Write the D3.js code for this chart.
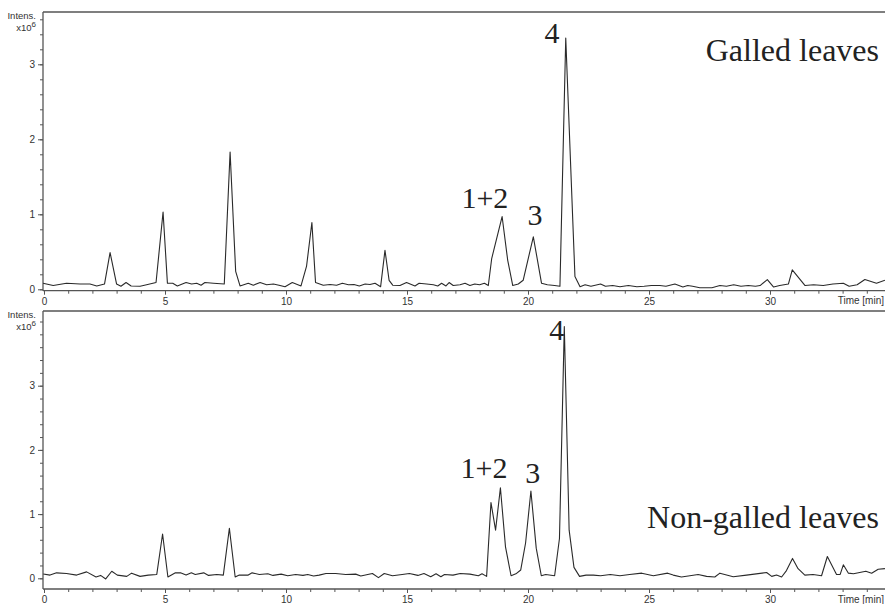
<!DOCTYPE html>
<html>
<head>
<meta charset="utf-8">
<script src="https://cdn.jsdelivr.net/npm/d3@7"></script>
<style>
  body { margin: 0; background: #fff; }
  svg { display: block; }
</style>
</head>
<body>
<script>
// chromatogram values (time in min, intensity x10^6)
var galledTime = [-0.04, 0.38, 0.93, 1.49, 1.9, 2.18, 2.5, 2.73, 3.0, 3.18, 3.39, 3.6, 3.97, 4.24, 4.63, 4.92,
  5.1, 5.32, 5.51, 5.87, 6.1, 6.31, 6.49, 6.65, 7.0, 7.45, 7.69, 7.92, 8.1, 8.44, 8.65, 8.93, 9.2, 9.48, 9.71,
  9.96, 10.26, 10.62, 10.85, 11.07, 11.22, 11.54, 11.82, 12.09, 12.33, 12.58, 12.81, 13.03, 13.27, 13.47, 13.68,
  13.91, 14.09, 14.26, 14.41, 14.71, 14.98, 15.33, 15.5, 15.81, 16.09, 16.27, 16.43, 16.61, 16.74, 16.91, 17.19,
  17.4, 17.6, 17.8, 18.0, 18.2, 18.36, 18.5, 18.93, 19.16, 19.37, 19.6, 19.8, 20.22, 20.56, 20.8, 21.1, 21.32,
  21.56, 21.94, 22.15, 22.36, 22.6, 23.0, 23.2, 23.5, 23.8, 24.15, 24.5, 24.8, 25.1, 25.45, 25.7, 26.07, 26.4,
  26.6, 26.8, 27.1, 27.6, 27.93, 28.2, 28.5, 28.8, 29.1, 29.4, 29.59, 29.89, 30.15, 30.4, 30.76, 30.92, 31.45,
  31.8, 32.2, 32.6, 33.03, 33.27, 33.6, 33.92, 34.4, 34.75];
var galledIntens = [0.08, 0.05, 0.08, 0.07, 0.07, 0.045, 0.07, 0.49, 0.07, 0.04, 0.09, 0.045, 0.04, 0.06, 0.09, 1.03,
  0.08, 0.08, 0.045, 0.09, 0.07, 0.08, 0.055, 0.09, 0.08, 0.07, 1.83, 0.24, 0.045, 0.08, 0.055, 0.09, 0.06, 0.07, 0.055,
  0.035, 0.09, 0.045, 0.31, 0.89, 0.09, 0.055, 0.065, 0.055, 0.08, 0.06, 0.065, 0.045, 0.07, 0.065, 0.08,
  0.035, 0.52, 0.12, 0.055, 0.05, 0.09, 0.045, 0.08, 0.07, 0.06, 0.045, 0.08, 0.045, 0.09, 0.05, 0.06,
  0.08, 0.05, 0.07, 0.06, 0.08, 0.05, 0.41, 0.97, 0.39, 0.05, 0.07, 0.12, 0.70, 0.08, 0.06, 0.05, 0.04,
  3.35, 0.17, 0.035, 0.06, 0.04, 0.07, 0.04, 0.05, 0.035, 0.05, 0.035, 0.04, 0.05, 0.05, 0.04, 0.07, 0.03,
  0.05, 0.04, 0.02, 0.02, 0.05, 0.04, 0.06, 0.04, 0.05, 0.04, 0.05, 0.13, 0.03, 0.05, 0.07, 0.26, 0.05,
  0.06, 0.05, 0.07, 0.08, 0.04, 0.06, 0.13, 0.08, 0.12];

var nonGalledTime = [-0.03, 0.25, 0.52, 0.93, 1.35, 1.76, 2.15, 2.34, 2.55, 2.8, 3.03, 3.42, 3.62, 3.97, 4.31, 4.66,
  4.9, 5.12, 5.43, 5.64, 5.87, 6.09, 6.25, 6.6, 6.8, 7.14, 7.41, 7.66, 7.9, 8.07, 8.44, 8.6, 8.9, 9.25, 9.46,
  9.8, 10.07, 10.4, 10.7, 10.9, 11.14, 11.37, 11.65, 12.05, 12.47, 12.88, 13.09, 13.57, 13.82, 14.06, 14.4,
  14.8, 15.1, 15.45, 15.7, 15.98, 16.2, 16.4, 16.55, 16.9, 17.2, 17.6, 17.95, 18.1, 18.29, 18.47, 18.66, 18.86,
  19.07, 19.3, 19.5, 19.7, 19.9, 20.12, 20.34, 20.55, 20.73, 21.1, 21.3, 21.5, 21.7, 21.9, 22.13, 22.4, 22.7,
  23.0, 23.4, 23.8, 24.2, 24.7, 25.18, 25.77, 26.0, 26.34, 26.69, 27.03, 27.38, 27.72, 27.93, 28.48, 29.03,
  29.86, 30.07, 30.27, 30.48, 30.68, 30.93, 31.16, 31.44, 31.78, 32.13, 32.37, 32.75, 32.9, 33.03, 33.24,
  33.45, 33.96, 34.2, 34.47, 34.75];
var nonGalledIntens = [0.067, 0.05, 0.085, 0.075, 0.05, 0.1, 0.02, 0.045, -0.01, 0.11, 0.05, 0.03, 0.08, 0.03, 0.05, 0.06,
  0.69, 0.02, 0.085, 0.085, 0.05, 0.085, 0.06, 0.085, 0.045, 0.06, 0.05, 0.78, 0.02, 0.05, 0.05, 0.085, 0.06, 0.07, 0.045,
  0.065, 0.04, 0.06, 0.045, 0.06, 0.035, 0.05, 0.075, 0.075, 0.06, 0.065, 0.035, 0.075, 0.01, 0.075, 0.04,
  0.06, 0.075, 0.045, 0.075, 0.025, 0.07, 0.025, 0.06, 0.05, 0.075, 0.065, 0.04, 0.07, 0.03, 1.18, 0.75, 1.41,
  0.49, 0.04, 0.07, 0.13, 0.55, 1.36, 0.47, 0.04, 0.06, 0.04, 0.62, 3.92, 0.75, 0.17, 0.03, 0.05, 0.05,
  0.04, 0.06, 0.04, 0.06, 0.08, 0.04, 0.08, 0.05, 0.02, 0.04, 0.06, 0.03, 0.02, 0.08, 0.025, 0.05,
  0.09, 0.03, 0.05, 0.02, 0.12, 0.31, 0.15, 0.05, 0.06, 0.04, 0.34, 0.06, 0.06, 0.21, 0.08,
  0.07, 0.11, 0.08, 0.14, 0.15];

var xMajorTicks = [0, 5, 10, 15, 20, 25, 30];
var yMajorTicks = [0, 1, 2, 3];
var panelTitles = ["Galled leaves", "Non-galled leaves"];
var peakNames = ["1+2", "3", "4"];
// label anchor (time, intensity of the text baseline)
var peakTimesGalled = [18.22, 20.29, 20.99];
var peakHeightsGalled = [1.08, 0.86, 3.28];
var peakTimesNonGalled = [18.18, 20.2, 21.19];
var peakHeightsNonGalled = [1.56, 1.48, 3.71];

var W = 885, H = 604;
var svg = d3.select("body").append("svg")
    .attr("width", W)
    .attr("height", H);

var x = d3.scaleLinear().domain([0, 35]).range([44, 44 + 24.2 * 35]);

var panels = [
  {time: galledTime, intens: galledIntens, top: 12, axisY: 290.7, y0: 289.3, unit: 75, yMax: 3.6,
   title: panelTitles[0], titleY: 61, peakT: peakTimesGalled, peakV: peakHeightsGalled},
  {time: nonGalledTime, intens: nonGalledIntens, top: 311, axisY: 589, y0: 578.3, unit: 64.2, yMax: 4.0,
   title: panelTitles[1], titleY: 528, peakT: peakTimesNonGalled, peakV: peakHeightsNonGalled}
];

var axisColor = "#555", textColor = "#333";

panels.forEach(function(p) {
  var y = d3.scaleLinear().domain([0, 3]).range([p.y0, p.y0 - 3 * p.unit]);
  var g = svg.append("g");

  // frame: top border, left axis, bottom axis
  g.append("line").attr("x1", 43).attr("x2", W).attr("y1", p.top).attr("y2", p.top)
    .attr("stroke", axisColor).attr("stroke-width", 1.3);
  g.append("line").attr("x1", 43).attr("x2", 43).attr("y1", p.top).attr("y2", p.axisY)
    .attr("stroke", axisColor).attr("stroke-width", 1.3);
  g.append("line").attr("x1", 43).attr("x2", W).attr("y1", p.axisY).attr("y2", p.axisY)
    .attr("stroke", axisColor).attr("stroke-width", 1.3);

  // y axis ticks
  var yMinor = d3.range(0, Math.round(p.yMax / 0.2) + 1).map(function(i) { return +(i * 0.2).toFixed(1); });
  g.append("g").attr("transform", "translate(43,0)")
    .call(d3.axisLeft(y).tickValues(yMinor).tickSize(3).tickFormat(""))
    .call(function(a) { a.select(".domain").remove(); a.selectAll("line").attr("stroke", axisColor); });
  g.append("g").attr("transform", "translate(43,0)")
    .call(d3.axisLeft(y).tickValues(yMajorTicks).tickSize(5).tickPadding(3).tickFormat(d3.format("d")))
    .call(function(a) {
      a.select(".domain").remove();
      a.selectAll("line").attr("stroke", axisColor);
      a.selectAll("text").attr("fill", textColor).attr("font-family", "Liberation Sans, Arial, sans-serif").attr("font-size", 10);
    });

  // x axis ticks
  var xMinor = d3.range(0, 35);
  g.append("g").attr("transform", "translate(0," + p.axisY + ")")
    .call(d3.axisBottom(x).tickValues(xMinor).tickSize(3).tickFormat(""))
    .call(function(a) { a.select(".domain").remove(); a.selectAll("line").attr("stroke", axisColor); });
  g.append("g").attr("transform", "translate(0," + p.axisY + ")")
    .call(d3.axisBottom(x).tickValues(xMajorTicks).tickSize(4).tickPadding(3).tickFormat(d3.format("d")))
    .call(function(a) {
      a.select(".domain").remove();
      a.selectAll("line").attr("stroke", axisColor);
      a.selectAll("text").attr("fill", textColor).attr("font-family", "Liberation Sans, Arial, sans-serif").attr("font-size", 10);
    });

  g.append("text").text("Time [min]")
    .attr("x", 884).attr("y", p.axisY + 13.5).attr("text-anchor", "end")
    .attr("font-family", "Liberation Sans, Arial, sans-serif").attr("font-size", 10).attr("fill", textColor);

  // axis title
  g.append("text").text("Intens.")
    .attr("x", 36).attr("y", p.top + 7).attr("text-anchor", "end")
    .attr("font-family", "Liberation Sans, Arial, sans-serif").attr("font-size", 9.5).attr("fill", textColor);
  var xt = g.append("text")
    .attr("x", 36).attr("y", p.top + 19).attr("text-anchor", "end")
    .attr("font-family", "Liberation Sans, Arial, sans-serif").attr("font-size", 9.5).attr("fill", textColor);
  xt.append("tspan").text("x10");
  xt.append("tspan").text("6").attr("dy", -4).attr("font-size", 8);

  // trace
  var pts = p.time.map(function(t, i) { return [t, p.intens[i]]; });
  g.append("path").datum(pts)
    .attr("fill", "none")
    .attr("stroke", "#2a2a2a")
    .attr("stroke-width", 1.1)
    .attr("stroke-linejoin", "round")
    .attr("d", d3.line().x(function(d) { return x(d[0]); }).y(function(d) { return y(d[1]); }));

  // panel title
  g.append("text").text(p.title)
    .attr("x", 879).attr("y", p.titleY).attr("text-anchor", "end")
    .attr("font-family", "Liberation Serif, Times New Roman, serif").attr("font-size", 32).attr("fill", "#222");

  // peak labels
  peakNames.forEach(function(name, i) {
    g.append("text").text(name)
      .attr("x", x(p.peakT[i])).attr("y", y(p.peakV[i])).attr("text-anchor", "middle")
      .attr("font-family", "Liberation Serif, Times New Roman, serif").attr("font-size", 30).attr("fill", "#222");
  });
});
</script>
</body>
</html>
